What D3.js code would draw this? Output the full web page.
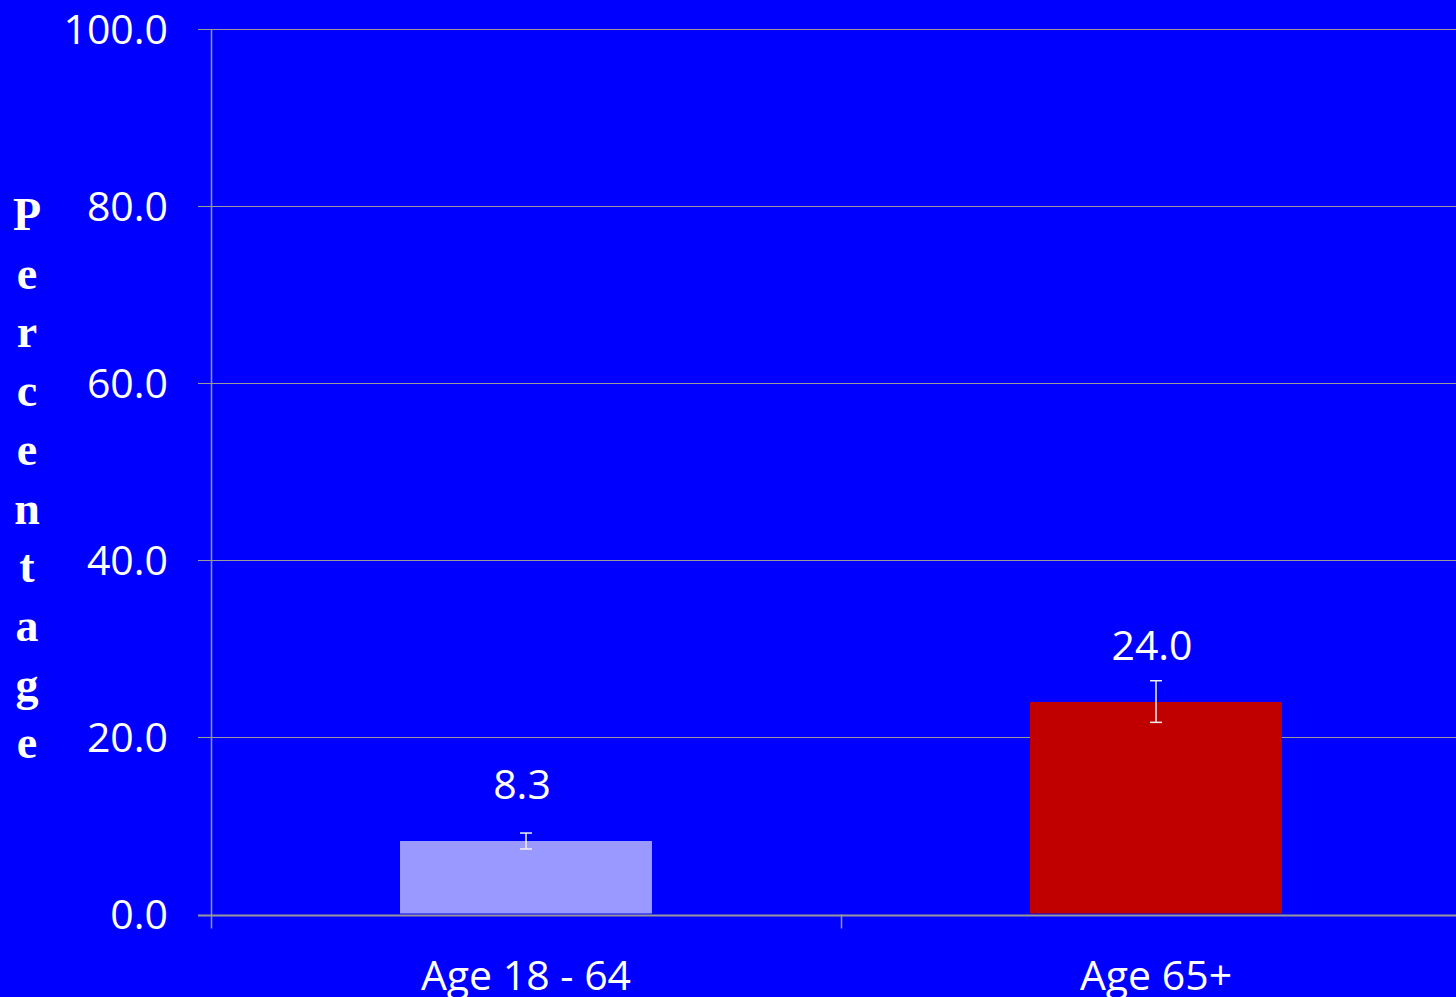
<!DOCTYPE html>
<html>
<head>
    <meta charset="utf-8">
    <title>Percentage by Age Group</title>
    <script src="https://d3js.org/d3.v7.min.js"></script>
    <style>
        body {
            margin: 0;
            background: #0000ff;
            overflow: hidden;
        }
        .tick-label, .cat-label, .value-label {
            font-family: "Open Sans", sans-serif;
            fill: #fff;
        }
        .y-title {
            font-family: "Liberation Serif", "Times New Roman", serif;
            font-weight: bold;
            fill: #fff;
        }
    </style>
</head>
<body>
    <div id="chart"></div>
    <script>
        const categories = ["Age 18 - 64", "Age 65+"];
        const values = [8.3, 24.0];
        const errLow = [7.4, 21.7];
        const errHigh = [9.2, 26.4];
        const barColors = ["#9999ff", "#c00000"];
        const yTicks = [0, 20, 40, 60, 80, 100];
        const yTitle = "Percentage";

        const width = 1456;
        const height = 997;
        const plotLeft = 211, plotTop = 29, plotBottom = 914.5;

        const svg = d3.select("#chart")
            .append("svg")
            .attr("width", width)
            .attr("height", height);

        svg.append("rect")
            .attr("width", width)
            .attr("height", height)
            .attr("fill", "#0000ff");

        const y = d3.scaleLinear().domain([0, 100]).range([plotBottom, plotTop]);
        const x = d3.scaleBand().domain(categories).range([plotLeft, plotLeft + 1260]).paddingInner(0).paddingOuter(0);
        const barW = x.bandwidth() * 0.4;

        // gridlines + y ticks
        svg.selectAll(".grid")
            .data(yTicks)
            .enter()
            .append("line")
            .attr("x1", plotLeft - 13)
            .attr("x2", width)
            .attr("y1", d => Math.round(y(d)) + 0.5)
            .attr("y2", d => Math.round(y(d)) + 0.5)
            .attr("stroke", "#999999")
            .attr("stroke-width", d => d === 0 ? 2 : 1);

        svg.selectAll(".tick-label")
            .data(yTicks)
            .enter()
            .append("text")
            .attr("class", "tick-label")
            .attr("x", 168)
            .attr("y", d => y(d))
            .attr("dy", "0.36em")
            .attr("text-anchor", "end")
            .style("font-size", "41px")
            .text(d => d.toFixed(1));

        // y axis line
        svg.append("line")
            .attr("x1", plotLeft + 0.5)
            .attr("x2", plotLeft + 0.5)
            .attr("y1", plotTop)
            .attr("y2", plotBottom + 14)
            .attr("stroke", "#999999")
            .attr("stroke-width", 1.5);

        // category tick marks
        svg.selectAll(".cat-tick")
            .data(categories.slice(1))
            .enter()
            .append("line")
            .attr("x1", d => x(d) + 0.5)
            .attr("x2", d => x(d) + 0.5)
            .attr("y1", plotBottom)
            .attr("y2", plotBottom + 14)
            .attr("stroke", "#999999")
            .attr("stroke-width", 1.5);

        // bars
        svg.selectAll(".bar")
            .data(values)
            .enter()
            .append("rect")
            .attr("x", (d, i) => x(categories[i]) + (x.bandwidth() - barW) / 2)
            .attr("y", d => y(d))
            .attr("width", barW)
            .attr("height", d => y(0) - y(d) - 1)
            .attr("fill", (d, i) => barColors[i]);

        // error bars
        const err = svg.selectAll(".err")
            .data(values)
            .enter()
            .append("g")
            .attr("stroke", "#f0f0f0")
            .attr("stroke-width", 1.5);

        err.append("line")
            .attr("x1", (d, i) => x(categories[i]) + x.bandwidth() / 2)
            .attr("x2", (d, i) => x(categories[i]) + x.bandwidth() / 2)
            .attr("y1", (d, i) => y(errHigh[i]))
            .attr("y2", (d, i) => y(errLow[i]));
        err.append("line")
            .attr("x1", (d, i) => x(categories[i]) + x.bandwidth() / 2 - 6)
            .attr("x2", (d, i) => x(categories[i]) + x.bandwidth() / 2 + 6)
            .attr("y1", (d, i) => y(errHigh[i]))
            .attr("y2", (d, i) => y(errHigh[i]));
        err.append("line")
            .attr("x1", (d, i) => x(categories[i]) + x.bandwidth() / 2 - 6)
            .attr("x2", (d, i) => x(categories[i]) + x.bandwidth() / 2 + 6)
            .attr("y1", (d, i) => y(errLow[i]))
            .attr("y2", (d, i) => y(errLow[i]));

        // value labels
        svg.selectAll(".value-label")
            .data(values)
            .enter()
            .append("text")
            .attr("class", "value-label")
            .attr("x", (d, i) => x(categories[i]) + x.bandwidth() / 2 - 4)
            .attr("y", d => y(d) - 42)
            .attr("text-anchor", "middle")
            .style("font-size", "41px")
            .text(d => d.toFixed(1));

        // category labels (clipped at bottom edge as in the original slide)
        svg.selectAll(".cat-label")
            .data(categories)
            .enter()
            .append("text")
            .attr("class", "cat-label")
            .attr("x", d => x(d) + x.bandwidth() / 2)
            .attr("y", 990)
            .attr("text-anchor", "middle")
            .style("font-size", "41px")
            .text(d => d);

        // vertical stacked title
        svg.selectAll(".y-title")
            .data(yTitle.split(""))
            .enter()
            .append("text")
            .attr("class", "y-title")
            .attr("x", 27)
            .attr("y", (d, i) => 230 + i * 58.7)
            .attr("text-anchor", "middle")
            .style("font-size", "46px")
            .text(d => d);
    </script>
</body>
</html>
